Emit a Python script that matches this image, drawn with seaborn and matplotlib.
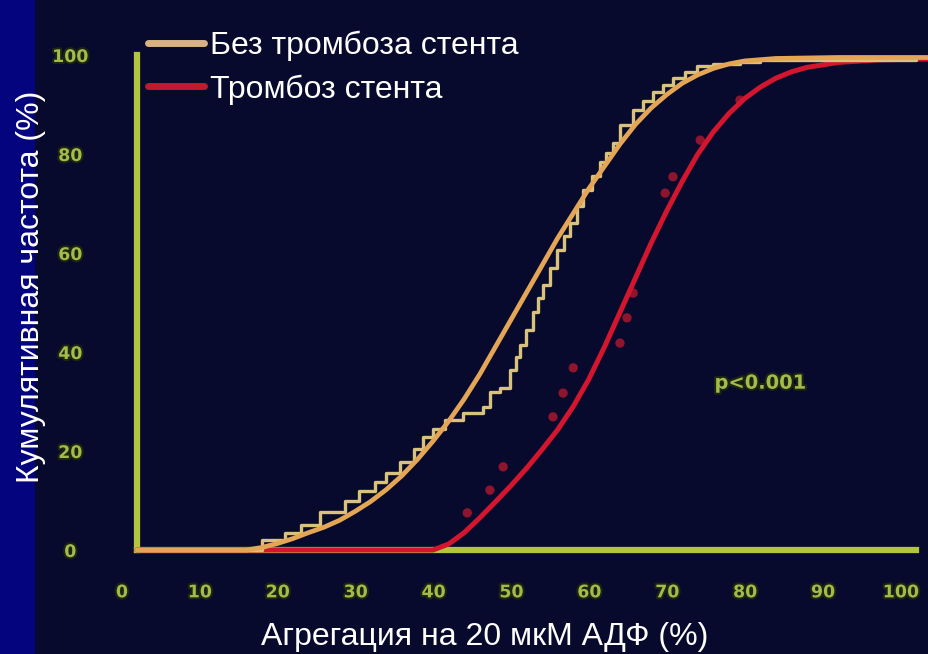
import matplotlib
matplotlib.use("Agg")
import matplotlib.pyplot as plt
import matplotlib.patheffects as pe
import matplotlib.transforms as mtrans
from matplotlib.lines import Line2D
from matplotlib.patches import Rectangle
import seaborn as sns
import pandas as pd

# ---------------- data ----------------
x_ticks = [0, 10, 20, 30, 40, 50, 60, 70, 80, 90, 100]
y_ticks = [0, 20, 40, 60, 80, 100]

# fitted curve, no stent thrombosis
fit_no_x = [0, 14, 16, 18, 20, 22, 24, 26, 28, 30, 32, 34, 36, 38, 40, 42, 44, 46, 48,
            50, 52, 54, 56, 58, 60, 62, 64, 66, 68, 70, 72, 74, 76, 78, 82, 90, 101.7]
fit_no_y = [0, 0, 0.5, 1.3, 2.3, 3.5, 4.6, 6, 7.8, 9.8, 12.2, 15, 18.3, 22, 26, 30.5, 35.5, 41, 46.5,
            52, 57.5, 63, 68, 73, 77.5, 82, 86, 89.3, 92, 94.3, 96, 97.3, 98.2, 98.8, 99.3, 99.5, 99.5]

# empirical cumulative curve, no stent thrombosis
emp_no_x = [0, 16, 19, 21, 23.5, 26.7, 28.5, 30.6, 32, 33.8, 35.5, 36.7, 38, 39.5, 41.8, 44.4,
            45.3, 46.6, 47.9, 48.6, 49.2, 50, 50.8, 51.5, 52.1, 53, 53.9, 54.8, 55.6, 56.5, 57.3,
            58.4, 59.4, 60.2, 61.1, 62, 63.7, 65, 66.2, 67.5, 68.8, 70.3, 71.9, 74, 77.4, 80, 100]
emp_no_y = [0, 2, 3.5, 5, 7.7, 10, 12, 13.7, 15.5, 17.8, 20.5, 22.8, 24.5, 26.3, 27.7, 28.9,
            31.9, 32.7, 36.4, 39, 41.4, 44.5, 48.1, 51, 53.5, 57, 60.6, 63.5, 66.1, 69.5, 72.7,
            75.5, 78.4, 80.3, 82.2, 85.9, 88.9, 90.8, 92.5, 94, 95.4, 96.6, 97.8, 98.2, 98.6, 99, 99]

# fitted curve, stent thrombosis
fit_th_x = [0, 38, 40, 42, 44, 46, 48, 50, 52, 54, 56, 58, 60, 62, 64, 66, 68, 70, 72,
            74, 76, 78, 80, 82, 84, 86, 90, 95, 101.7]
fit_th_y = [0, 0, 1.2, 3.5, 6.5, 9.7, 13, 16.5, 20.3, 24.3, 29, 34.5, 41, 48, 55, 62, 68.5, 74.5, 80,
            84.5, 88.2, 91.2, 93.5, 95.3, 96.6, 97.5, 98.5, 99, 99.2]

# individual points, stent thrombosis
pts_th_x = [42.4, 45.3, 47.0, 53.4, 54.7, 56.0, 62.0, 62.9, 63.7, 67.8, 68.8, 72.3, 77.4]
pts_th_y = [7.5, 12.1, 16.8, 26.9, 31.7, 36.8, 41.8, 46.9, 51.9, 72.1, 75.4, 82.8, 90.9]

legend_labels = ["Без тромбоза стента", "Тромбоз стента"]
x_label = "Агрегация на 20 мкМ АДФ (%)"
y_label = "Кумулятивная частота (%)"
p_text = "p<0.001"

# ---------------- style ----------------
BG = "#070a2c"
STRIP = "#04047e"
AXC = "#b3c43e"
TICKC = "#a4bb4a"
ORANGE = "#e4a656"
STEPC = "#d9c27e"
RED = "#d3162e"
DOTC = "#a8162e"

sns.set_theme(style="dark")
plt.rcParams["font.family"] = ["Liberation Sans", "DejaVu Sans"]

W, H = 929, 654
fig = plt.figure(figsize=(W / 100, H / 100), dpi=100, facecolor=BG)
strip = Rectangle((0, 0), 35 / W, 1, transform=fig.transFigure,
                  facecolor=STRIP, edgecolor="none", zorder=-10)
fig.patches.append(strip)

ax_left, ax_right, ax_bottom, ax_top = 137, 929, 550, 55
ax = fig.add_axes([ax_left / W, (H - ax_bottom) / H,
                   (ax_right - ax_left) / W, (ax_bottom - ax_top) / H])
ax.patch.set_visible(False)
ax.set_zorder(1)

df_fit_no = pd.DataFrame({"x": fit_no_x, "y": fit_no_y})
df_emp_no = pd.DataFrame({"x": emp_no_x, "y": emp_no_y})
df_fit_th = pd.DataFrame({"x": fit_th_x, "y": fit_th_y})
df_pts_th = pd.DataFrame({"x": pts_th_x, "y": pts_th_y})

sns.scatterplot(data=df_pts_th, x="x", y="y", ax=ax, color=DOTC, s=45,
                edgecolor="none", alpha=0.85, zorder=3, clip_on=False)
sns.lineplot(data=df_fit_th, x="x", y="y", ax=ax, color=RED, linewidth=3.6,
             zorder=4, clip_on=False)
sns.lineplot(data=df_emp_no, x="x", y="y", ax=ax, color=STEPC, linewidth=2.4,
             drawstyle="steps-post", zorder=5, clip_on=False)
sns.lineplot(data=df_fit_no, x="x", y="y", ax=ax, color=ORANGE, linewidth=3.4,
             zorder=6, clip_on=False)

ax.set_xlim(0, (ax_right - ax_left) / 7.79)
ax.set_ylim(0, 100)

for s in ["top", "right"]:
    ax.spines[s].set_visible(False)
for s in ["left", "bottom"]:
    ax.spines[s].set_visible(True)
    ax.spines[s].set_color(AXC)
    ax.spines[s].set_linewidth(4.5)
    ax.spines[s].set_bounds(0, 100)
    ax.spines[s].set_zorder(2)

ax.set_xticks(x_ticks)
ax.set_yticks(y_ticks)
ax.set_xticklabels([str(v) for v in x_ticks])
ax.set_yticklabels([str(v) for v in y_ticks])
ax.grid(False)
ax.tick_params(axis="both", colors=AXC, length=4, width=2.5, direction="out")
ax.tick_params(axis="x", pad=20, labelcolor=TICKC)
ax.tick_params(axis="y", pad=44, labelcolor=TICKC)
halo = [pe.withStroke(linewidth=3, foreground="#1c2412")]
shift = mtrans.ScaledTranslation(-15 / 100, 0, fig.dpi_scale_trans)
for lab in ax.get_xticklabels():
    lab.set_fontfamily("DejaVu Sans")
    lab.set_fontweight("bold")
    lab.set_fontsize(12.5)
    lab.set_path_effects(halo)
    lab.set_transform(lab.get_transform() + shift)
for lab in ax.get_yticklabels():
    lab.set_fontfamily("DejaVu Sans")
    lab.set_fontweight("bold")
    lab.set_fontsize(12.5)
    lab.set_ha("center")
    lab.set_path_effects(halo)

ax.set_xlabel(x_label, color="white", fontsize=23, va="center")
ax.xaxis.set_label_coords((485 - ax_left) / (ax_right - ax_left),
                          (ax_bottom - 637) / (ax_bottom - ax_top))
ax.set_ylabel(y_label, color="white", fontsize=23, va="center")
ax.yaxis.set_label_coords((31 - ax_left) / (ax_right - ax_left),
                          (ax_bottom - 287) / (ax_bottom - ax_top))

ax.text(80, 33.7, p_text, color=TICKC, fontsize=14, fontweight="bold",
        family="DejaVu Sans", ha="center", va="center", path_effects=halo)

handles = [Line2D([], [], color="#d8b283", linewidth=5),
           Line2D([], [], color="#c01a2c", linewidth=5)]
fig.legend(handles, legend_labels, loc="upper left",
           bbox_to_anchor=(148 / W, 1 - 31 / H), frameon=False, fontsize=23,
           labelcolor="white", borderpad=0, borderaxespad=0,
           handlelength=1.75, handletextpad=0.18, labelspacing=0.4)

fig.savefig("out.png", dpi=100, facecolor=BG)
